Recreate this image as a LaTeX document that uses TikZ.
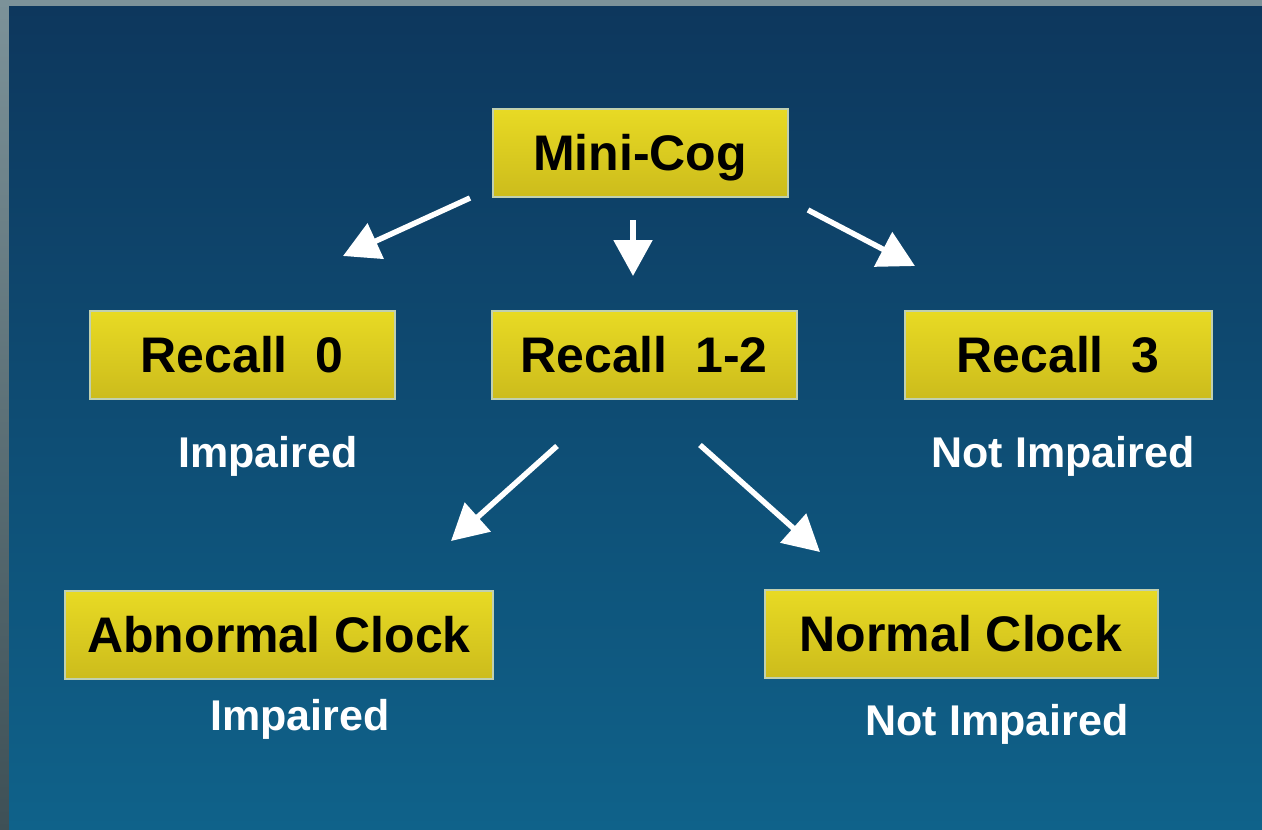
\documentclass[tikz,border=0pt]{standalone}
\usepackage{fontspec}
\setmainfont{Liberation Sans}
\usetikzlibrary{positioning, calc}
\usetikzlibrary{arrows.meta}

\definecolor{frametop}{RGB}{124,146,153}
\definecolor{framebot}{RGB}{62,80,86}
\definecolor{bgtop}{RGB}{13,55,93}
\definecolor{bgbot}{RGB}{15,98,138}
\definecolor{boxedge}{RGB}{192,208,176}
\definecolor{boxtop}{RGB}{232,218,36}
\definecolor{boxmid}{RGB}{244,232,40}
\definecolor{boxbot}{RGB}{204,188,28}

\begin{document}
\begin{tikzpicture}[x=1pt,y=-1pt,
    box/.style={draw=boxedge, line width=2pt, top color=boxtop, middle color=boxmid,
        bottom color=boxbot, inner sep=0pt, minimum height=88pt,
        text height=36pt, text depth=2pt, text=black,
        font=\fontsize{50}{60}\selectfont\bfseries},
    lbl/.style={anchor=base, text=white, font=\fontsize{43}{50}\selectfont\bfseries},
    arr/.style={white, line width=5.5pt, -{Triangle[length=36pt,width=38pt]}}]
    \useasboundingbox (0,0) rectangle (1262,830);
    % frame and background
    \fill[top color=frametop, bottom color=framebot] (0,0) rectangle (1262,830);
    \fill[top color=bgtop, bottom color=bgbot] (9,6) rectangle (1262,830);
    % boxes
    \node[box, minimum width=295pt] (minicog) at (640,153) {Mini-Cog};
    \node[box, minimum width=305pt] (recall0) at (242,355) {Recall\ \ 0};
    \node[box, minimum width=305pt] (recall12) at (644,355) {Recall\ \ 1-2};
    \node[box, minimum width=307pt] (recall3) at (1058,355) {Recall\ \ 3};
    \node[box, minimum width=428pt] (abnormal) at (279,635) {Abnormal Clock};
    \node[box, minimum width=393pt] (normal) at (961,634) {Normal Clock};
    % results
    \node[lbl] (imp0) at (268,467) {Impaired};
    \node[lbl] (notimp3) at (1063,467) {Not Impaired};
    \node[lbl] (impab) at (300,730) {Impaired};
    \node[lbl] (notimpno) at (997,735) {Not Impaired};
    % arrow ends
    \coordinate (a0s) at (470,198);  \coordinate (a0e) at (343,256);
    \coordinate (a1s) at (633,220);  \coordinate (a1e) at (633,276);
    \coordinate (a3s) at (808,210);  \coordinate (a3e) at (915,266);
    \coordinate (abs) at (557,446);  \coordinate (abe) at (451,541);
    \coordinate (nos) at (700,445);  \coordinate (noe) at (820,552);
    \draw[arr] (a0s) -- (a0e);
    \draw[arr] (a1s) -- (a1e);
    \draw[arr] (a3s) -- (a3e);
    \draw[arr] (abs) -- (abe);
    \draw[arr] (nos) -- (noe);
\end{tikzpicture}
\end{document}
